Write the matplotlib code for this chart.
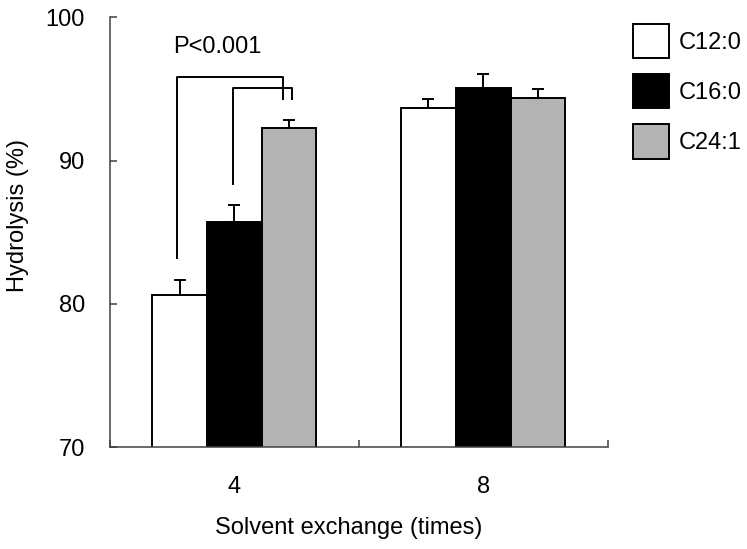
import matplotlib.pyplot as plt
import numpy as np

plt.rcParams['font.family'] = ['Liberation Sans', 'DejaVu Sans']

# data
groups = ['4', '8']
series = ['C12:0', 'C16:0', 'C24:1']
means = {
    'C12:0': [80.6, 93.7],
    'C16:0': [85.7, 95.1],
    'C24:1': [92.3, 94.4],
}
errs = {
    'C12:0': [1.1, 0.6],
    'C16:0': [1.2, 0.95],
    'C24:1': [0.55, 0.6],
}
colors = ['white', 'black', '#b3b3b3']

fs = 17
fig = plt.figure(figsize=(7.47, 5.49), dpi=100)
ax = fig.add_axes([0.147, 0.1853, 0.6665, 0.7830])

width = 0.22
centers = np.arange(len(groups)) + 0.5
for i, (name, c) in enumerate(zip(series, colors)):
    x = centers + (i - 1) * width
    ax.bar(x, means[name], width, bottom=0, color=c, edgecolor='black',
           linewidth=1.4, label=name, zorder=2)
    ax.errorbar(x, means[name], yerr=[np.zeros(len(groups)), errs[name]],
                fmt='none', ecolor='black', elinewidth=1.4, capsize=4,
                capthick=1.4, zorder=1)

# significance brackets (group "4")
x12, x16, x24 = centers[0] - width, centers[0], centers[0] + width
ax.plot([x12 - 0.01, x12 - 0.01, x24 - 0.025, x24 - 0.025],
        [83.2, 95.85, 95.85, 94.3], color='black', lw=1.4)
ax.plot([x16 - 0.005, x16 - 0.005, x24 + 0.01, x24 + 0.01],
        [88.4, 95.05, 95.05, 94.3], color='black', lw=1.4)
ax.text(x12 + 0.15, 97.9, 'P<0.001', ha='center', va='center', fontsize=fs)

ax.set_ylim(70, 100)
ax.set_xlim(0, 2)
ax.set_yticks([70, 80, 90, 100])
ax.set_xticks([0, 1, 2])
ax.set_xticklabels([])
ax.set_xticks(centers, minor=True)
ax.set_xticklabels(groups, minor=True, fontsize=fs)
ax.tick_params(axis='x', which='minor', length=0, pad=21)
ax.tick_params(axis='x', which='major', direction='in', length=5,
               color='#404040', width=1.1)
ax.tick_params(axis='y', direction='in', length=5, color='#404040',
               width=1.1, labelsize=fs, pad=18)

for s in ['top', 'right']:
    ax.spines[s].set_visible(False)
for s in ['left', 'bottom']:
    ax.spines[s].set_color('#404040')
    ax.spines[s].set_linewidth(1.1)

ax.set_ylabel('Hydrolysis (%)', fontsize=fs)
ax.yaxis.set_label_coords(-0.163, 0.54)
ax.set_xlabel('Solvent exchange (times)', fontsize=fs)
ax.xaxis.set_label_coords(0.48, -0.162)

fig.legend(loc='upper left', bbox_to_anchor=(633 / 747, 1 - 24 / 549),
           frameon=False, fontsize=fs, handlelength=1.53, handleheight=1.85,
           labelspacing=0.68, handletextpad=0.42, borderpad=0, borderaxespad=0)

fig.savefig('out.png', dpi=100)
